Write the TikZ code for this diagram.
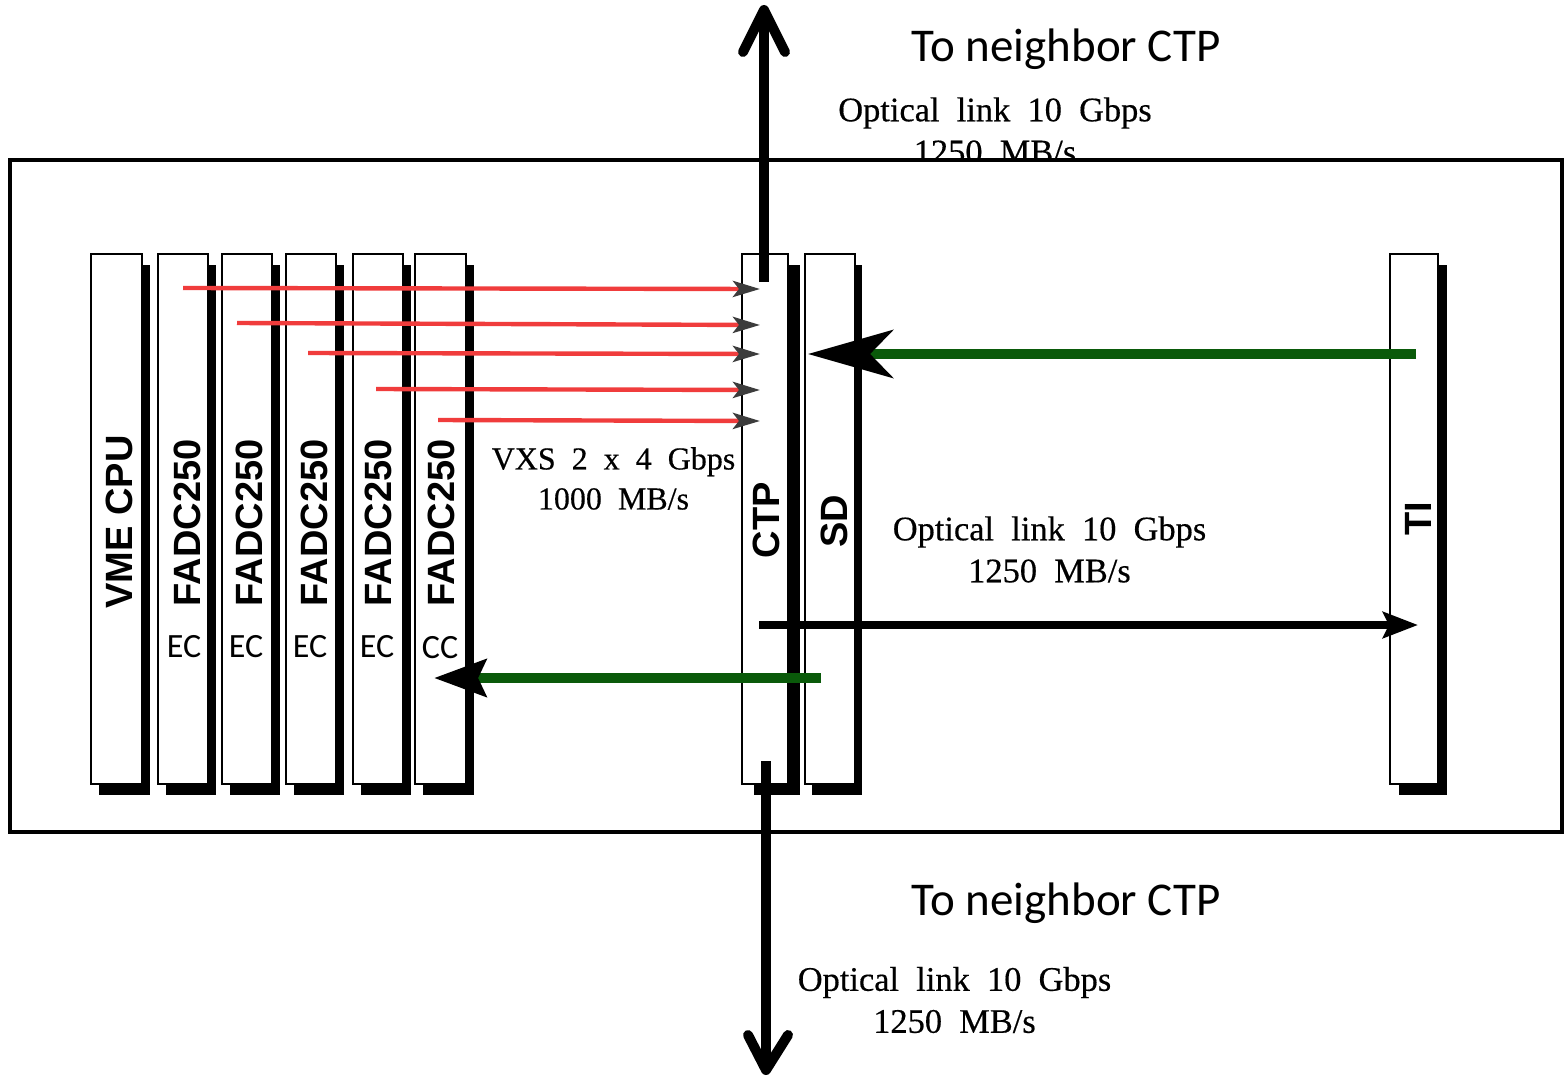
\documentclass[tikz,border=0pt]{standalone}
\usepackage{fontspec}
\setmainfont{Liberation Serif}
\setsansfont{Liberation Sans}
\newfontfamily\calfont{Carlito}
\newfontfamily\ratefont{Liberation Serif}[FakeBold=0.4]
\usetikzlibrary{arrows.meta,shadows,calc}
\definecolor{linkred}{RGB}{240,60,60}
\definecolor{linkgreen}{RGB}{10,90,10}
\definecolor{tipgray}{RGB}{60,60,60}
\tikzset{
  board/.style={draw=black, line width=1pt, fill=white, inner sep=0pt,
    minimum height=265pt,
    general shadow={fill=black, shadow xshift=#1, shadow yshift=-5.5pt}},
  board/.default=4pt,
  boardlabel/.style={rotate=90, inner sep=0pt,
    font={\sffamily\bfseries\fontsize{19}{19}\selectfont}},
  sublabel/.style={inner sep=0pt, font={\calfont\fontsize{17}{17}\selectfont}},
  ratelabel/.style={inner sep=0pt, align=center,
    font={\ratefont\fontsize{17.2}{21}\selectfont\spaceskip=0.5em plus 0.1em\relax}},
  vxslabel/.style={inner sep=0pt, align=center,
    font={\ratefont\fontsize{16}{20}\selectfont\spaceskip=0.5em plus 0.1em\relax}},
  tolabel/.style={inner sep=0pt, anchor=base,
    font={\calfont\fontsize{23.5}{23.5}\selectfont}},
  redlink/.style={draw=linkred, line width=2.2pt,
    -{Stealth[length=13.5pt,width=8pt,inset=3pt,color=tipgray]}},
  greenlink/.style={draw=linkgreen, line width=5pt},
  blacklink/.style={draw=black, line width=4pt,
    -{Stealth[length=17.5pt,width=13pt,inset=3pt,color=black]}},
  bigline/.style={draw=black, line width=5pt},
  chevron/.style={draw=black, line width=5pt, line cap=round, line join=round},
}
\begin{document}
\begin{tikzpicture}[x=0.5pt,y=-0.5pt]
\useasboundingbox (0,0) rectangle (1566,1075);

% crate frame
\node[draw=black, line width=2pt, fill=white, inner sep=0pt,
      minimum width=776pt, minimum height=336pt] (crate) at (786,496) {};

% boards
\node[board, minimum width=25.5pt] (vme) at (116.5,519) {};
\node[board, minimum width=25pt] (f1) at (183,519) {};
\node[board, minimum width=25pt] (f2) at (247,519) {};
\node[board, minimum width=25pt] (f3) at (311,519) {};
\node[board, minimum width=25pt] (f4) at (378,519) {};
\node[board, minimum width=25.5pt] (f5) at (440.5,519) {};
\node[board=6pt, minimum width=23pt] (ctp) at (765,519) {};
\node[board=3.5pt, minimum width=25pt] (sd) at (830,519) {};
\node[board=4.5pt, minimum width=24pt] (ti) at (1414,519) {};

% board labels
\node[boardlabel] (vmeL) at (119,522) {VME CPU};
\node[boardlabel] (f1L) at (187,523) {FADC250};
\node[boardlabel] (f2L) at (249,523) {FADC250};
\node[boardlabel] (f3L) at (314,523) {FADC250};
\node[boardlabel] (f4L) at (378,523) {FADC250};
\node[boardlabel] (f5L) at (441,523) {FADC250};
\node[boardlabel] (ctpL) at (766,520) {CTP};
\node[boardlabel] (sdL) at (834,521) {SD};
\node[boardlabel] (tiL) at (1418,519) {TI};

\node[sublabel] (e1) at (184,647) {EC};
\node[sublabel] (e2) at (246,647) {EC};
\node[sublabel] (e3) at (310,647) {EC};
\node[sublabel] (e4) at (377,647) {EC};
\node[sublabel] (c5) at (440,648) {CC};

% free ends
\coordinate (r1) at (760,289);
\coordinate (r2) at (760,325);
\coordinate (r3) at (760,354);
\coordinate (r4) at (760,390);
\coordinate (r5) at (760,421);
\coordinate (sdIn) at (808,354);
\coordinate (ccIn) at (434,678);
\coordinate (tiIn) at (1418,625);
\coordinate (topEnd) at (764,10);
\coordinate (botEnd) at (766,1070);

% VXS links
\draw[redlink] (f1 |- 0,288) -- (r1);
\draw[redlink] ($(f2.west |- 0,323)+(16,0)$) -- (r2);
\draw[redlink] ($(f3.west |- 0,353)+(23,0)$) -- (r3);
\draw[redlink] ($(f4.west |- 0,389)+(24,0)$) -- (r4);
\draw[redlink] ($(f5.west |- 0,420)+(24,0)$) -- (r5);

% TI -> SD
\draw[greenlink, -{Stealth[length=42.5pt,width=24pt,inset=11.5pt,color=black]}]
  ($(ti.west |- 0,354)+(27,0)$) -- (sdIn);
% SD -> CC
\draw[greenlink, -{Stealth[length=26pt,width=18.5pt,inset=4pt,color=black]}]
  ($(sd.west |- 0,678)+(17,0)$) -- (ccIn);
% CTP -> TI
\draw[blacklink] ($(ctp.west |- 0,625)+(18,0)$) -- (tiIn);

% optical links to neighbour CTPs
\draw[bigline] ($(ctp.north)+(-1,29)$) -- (topEnd);
\draw[chevron] ($(topEnd)+(-21,42)$) -- (topEnd) -- ($(topEnd)+(21,42)$);
\draw[bigline] ($(ctp.south)+(1,-24)$) -- (botEnd);
\draw[chevron] ($(botEnd)+(-18,-35)$) -- (botEnd) -- ($(botEnd)+(22,-35)$);

% texts
\node[tolabel] (toTop) at (1066,62) {To neighbor CTP};
\node[tolabel] (toBot) at (1066,915) {To neighbor CTP};
\begin{scope}
  \clip (0,0) rectangle (1566,158);
  \node[ratelabel] (optTop) at (995,130.5) {Optical link 10 Gbps\\1250 MB/s};
\end{scope}
\node[ratelabel] (optMid) at (1049.5,549.5) {Optical link 10 Gbps\\1250 MB/s};
\node[ratelabel] (optBot) at (954.5,1000) {Optical link 10 Gbps\\1250 MB/s};
\node[vxslabel] (vxs) at (613.5,478.5) {VXS 2 x 4 Gbps\\1000 MB/s};
\end{tikzpicture}
\end{document}
